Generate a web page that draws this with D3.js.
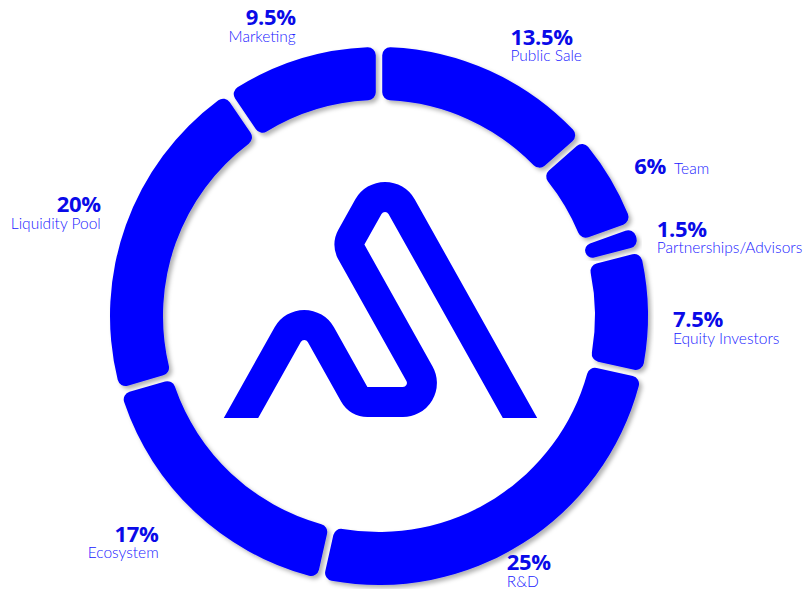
<!DOCTYPE html>
<html>
<head>
<meta charset="utf-8">
<script src="https://cdn.jsdelivr.net/npm/d3@7"></script>
<style>
  body { margin: 0; background: #fff; }
  svg { display: block; }
</style>
</head>
<body>
<div id="chart"></div>
<script>
// token allocation, clockwise from the top
var categories = ["Public Sale", "Team", "Partnerships/Advisors", "Equity Investors", "R&D", "Ecosystem", "Liquidity Pool", "Marketing"];
var shares = [13.5, 6, 1.5, 7.5, 25, 17, 20, 9.5];
var pctLabels = ["13.5%", "6%", "1.5%", "7.5%", "25%", "17%", "20%", "9.5%"];

var width = 804, height = 589;
var cx = 379, cy = 316, rOuter = 269, rInner = 216;
var blue = "#0000ff";

var svg = d3.select("#chart")
    .append("svg")
    .attr("width", width)
    .attr("height", height);

// soft shadow under the ring pieces
var defs = svg.append("defs");
var f = defs.append("filter").attr("id", "shadow")
    .attr("x", "-10%").attr("y", "-10%").attr("width", "120%").attr("height", "120%");
f.append("feDropShadow")
    .attr("dx", 3).attr("dy", 3)
    .attr("stdDeviation", 2)
    .attr("flood-color", "#000")
    .attr("flood-opacity", 0.3);

var pie = d3.pie().sort(null).value(function (d) { return d; });
var arcs = pie(shares);

var arc = d3.arc()
    .innerRadius(rInner)
    .outerRadius(rOuter)
    .padAngle(0.024)
    .padRadius(rOuter)
    .cornerRadius(8);

var g = svg.append("g").attr("transform", "translate(" + cx + "," + cy + ")");
g.selectAll("path.slice")
    .data(arcs)
    .enter()
    .append("path")
    .attr("class", "slice")
    .attr("d", arc)
    .attr("fill", blue)
    .attr("filter", "url(#shadow)");

// labels: start from a point outside each slice, then nudge
var labelR = 300;
var layout = [
    {anchor: "start", dx: 8, dy: 2},
    {anchor: "inline", dx: -3, dy: 11},
    {anchor: "start", dx: -9, dy: 9},
    {anchor: "start", dx: -6, dy: 16},
    {anchor: "start", dx: -33, dy: 1},
    {anchor: "end", dx: -15, dy: 7},
    {anchor: "end", dx: 4, dy: -2},
    {anchor: "end", dx: 5, dy: -4}
];

arcs.forEach(function (a, i) {
    var mid = (a.startAngle + a.endAngle) / 2;
    var x = cx + labelR * Math.sin(mid) + layout[i].dx;
    var y = cy - labelR * Math.cos(mid) + layout[i].dy;
    var anchor = layout[i].anchor;
    var pct = svg.append("text")
        .attr("x", x)
        .attr("y", y)
        .attr("text-anchor", anchor == "inline" ? "start" : anchor)
        .style("font-family", "'Open Sans', sans-serif")
        .style("font-weight", 700)
        .style("font-size", "22px")
        .style("letter-spacing", "-0.3px")
        .attr("fill", "#0a0ae8")
        .text(pctLabels[i]);
    var lx = x, ly = y + 16.5;
    if (anchor == "inline") {
        lx = x + pct.node().getComputedTextLength() + 8;
        ly = y;
    }
    svg.append("text")
        .attr("x", lx)
        .attr("y", ly)
        .attr("text-anchor", anchor == "inline" ? "start" : anchor)
        .style("font-family", "Lato, sans-serif")
        .style("font-weight", 300)
        .style("font-size", "15.5px")
        .attr("fill", "#2020ff")
        .text(categories[i]);
});

// centre logo: one thick stroke with rounded bends
var k = 0.56;  // dx per dy of the slanted strokes
var logo = [
    [241 - k * 20, 438],
    [241 + k * 113, 305],
    [241 + k * 113 + k * 97, 402],
    [367 + k * 122, 402],
    [347.2, 244.6],
    [385, 177],
    [520 + k * 20, 438]
];
var radii = [0, 19, 15, 19, 15, 19, 0];

function roundedPath(pts, rs) {
    var s = "M" + pts[0][0] + "," + pts[0][1];
    for (var i = 1; i < pts.length - 1; i++) {
        var v = pts[i], p = pts[i - 1], n = pts[i + 1];
        var ax = p[0] - v[0], ay = p[1] - v[1];
        var bx = n[0] - v[0], by = n[1] - v[1];
        var la = Math.hypot(ax, ay), lb = Math.hypot(bx, by);
        ax /= la; ay /= la; bx /= lb; by /= lb;
        var th = Math.acos(ax * bx + ay * by);
        var t = rs[i] / Math.tan(th / 2);
        var sx = v[0] + ax * t, sy = v[1] + ay * t;
        var ex = v[0] + bx * t, ey = v[1] + by * t;
        var cross = (-ax) * by - (-ay) * bx;
        s += "L" + sx + "," + sy + "A" + rs[i] + "," + rs[i] + " 0 0 " + (cross > 0 ? 1 : 0) + " " + ex + "," + ey;
    }
    var last = pts[pts.length - 1];
    s += "L" + last[0] + "," + last[1];
    return s;
}

defs.append("clipPath").attr("id", "logoClip")
    .append("rect").attr("x", 0).attr("y", 0).attr("width", width).attr("height", 418);

svg.append("path")
    .attr("d", roundedPath(logo, radii))
    .attr("fill", "none")
    .attr("stroke", blue)
    .attr("stroke-width", 30)
    .attr("clip-path", "url(#logoClip)");
</script>
</body>
</html>
